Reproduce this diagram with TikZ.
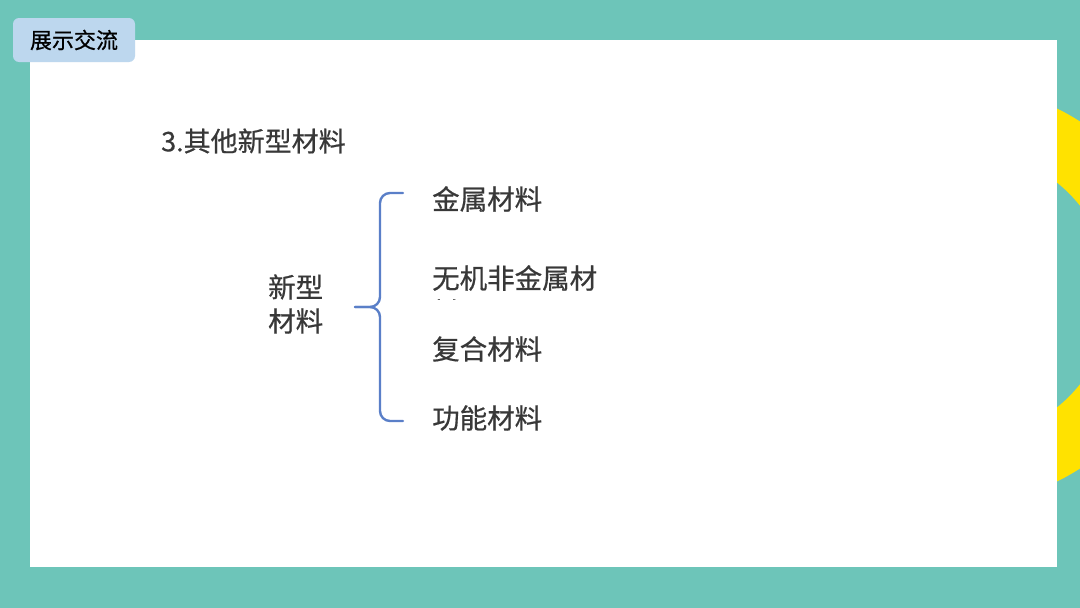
\documentclass[tikz,border=0pt]{standalone}
\usepackage{fontspec}
\setmainfont{Noto Sans CJK SC}[FakeBold=0.6]
\definecolor{teal}{HTML}{6DC5B9}
\definecolor{ringyellow}{HTML}{FFE200}
\definecolor{tagblue}{HTML}{BDD7EE}
\definecolor{bracecol}{HTML}{5A7FC8}
\definecolor{txt}{HTML}{383838}
\tikzset{
  item/.style={anchor=west, inner sep=0pt, text=txt, font=\fontsize{27.5}{32}\selectfont},
  bracestyle/.style={draw=bracecol, line width=2.4pt, line cap=round, line join=round, rounded corners=10pt},
}
\begin{document}
\begin{tikzpicture}[x=1pt,y=-1pt]
\useasboundingbox (0,0) rectangle (1080,608);
% background
\fill[teal] (0,0) rectangle (1080,608);
% yellow ring behind the panel
\fill[ringyellow, even odd rule] (967,295) circle[radius=207] (967,295) circle[radius=144];
% white panel
\fill[white] (30,40) rectangle (1057,567);
% tag
\node[fill=tagblue, rounded corners=6pt, minimum width=122pt, minimum height=44pt, inner sep=0pt,
      font=\fontsize{22}{26}\selectfont, text=black] (tag) at (74,40) {展示交流};
% title
\node[anchor=west, inner sep=0pt, text=txt, font=\fontsize{27}{30}\selectfont] (title) at (161,141) {3.其他新型材料};
% left label
\node[item] (xin) at (268,287) {新型};
\node[item] (cai) at (268,321) {材料};
% brace
\coordinate (btop) at (403,193);
\coordinate (bmid) at (355,307);
\coordinate (bbot) at (403,421);
\draw[bracestyle] (btop) -- (380,193) -- (380,307) -- (bmid);
\draw[bracestyle] (bmid) -- (380,307) -- (380,421) -- (bbot);
% items
\node[item] (i1) at (432,199) {金属材料};
\node[item] (i2) at (432,278) {无机非金属材};
\begin{scope}
  \clip (428,296.5) rectangle (480,299.5);
  \node[item] (i2b) at (432,312) {料};
\end{scope}
\node[item] (i3) at (432,349) {复合材料};
\node[item] (i4) at (432,418) {功能材料};
\end{tikzpicture}
\end{document}
